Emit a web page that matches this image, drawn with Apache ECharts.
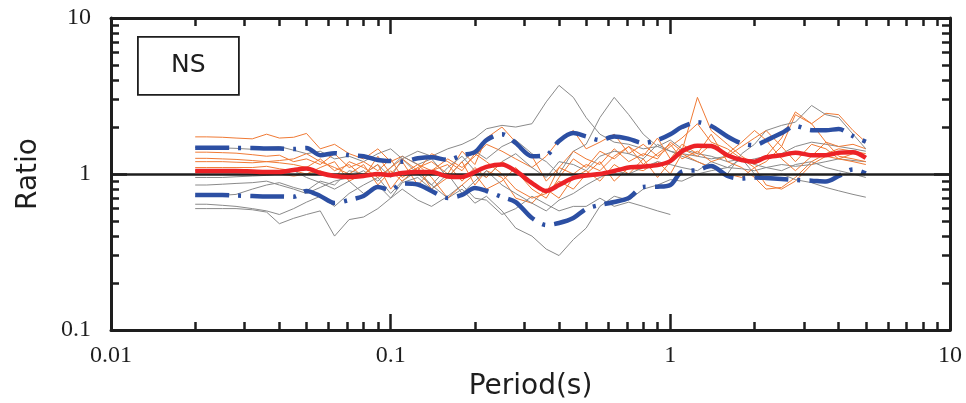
<!DOCTYPE html>
<html>
<head>
<meta charset="utf-8">
<script src="https://cdn.jsdelivr.net/npm/echarts@6/dist/echarts.min.js"></script>
<style>
html,body{margin:0;padding:0;background:#fff;}
#chart{width:966px;height:403px;}
</style>
</head>
<body>
<div id="chart"></div>
<script>
// ---------- data ----------
const periods = [0.02,0.022,0.025,0.028,0.032,0.036,0.04,0.045,0.05,0.056,0.063,0.071,0.08,0.09,0.1,0.11,0.125,0.14,0.16,0.18,0.2,0.22,0.25,0.28,0.32,0.36,0.4,0.45,0.5,0.56,0.63,0.71,0.8,0.9,1.0,1.1,1.25,1.4,1.6,1.8,2.0,2.2,2.5,2.8,3.2,3.6,4.0,4.5,5.0];

const meanRatio = [1.045,1.045,1.045,1.045,1.037,1.03,1.03,1.06,1.085,1.015,0.97,0.957,0.97,1.0,0.985,1.015,1.03,1.03,0.964,0.957,1.03,1.11,1.15,1.045,0.875,0.778,0.85,0.943,0.978,1.0,1.045,1.1,1.117,1.14,1.21,1.40,1.52,1.51,1.32,1.23,1.20,1.28,1.32,1.37,1.32,1.32,1.37,1.38,1.27];
const meanPlusSigma = [1.475,1.475,1.475,1.47,1.47,1.457,1.457,1.446,1.47,1.32,1.36,1.32,1.30,1.23,1.21,1.20,1.26,1.28,1.23,1.32,1.38,1.65,1.80,1.58,1.30,1.32,1.63,1.83,1.74,1.65,1.74,1.68,1.58,1.65,1.80,2.0,2.15,2.03,1.74,1.57,1.53,1.64,1.83,2.03,1.91,1.91,1.94,1.75,1.61];
const meanMinusSigma = [0.734,0.734,0.734,0.728,0.723,0.718,0.718,0.715,0.778,0.723,0.652,0.681,0.723,0.826,0.79,0.869,0.856,0.778,0.702,0.734,0.813,0.778,0.712,0.661,0.522,0.471,0.485,0.522,0.597,0.633,0.661,0.702,0.826,0.829,0.85,1.035,1.06,1.125,0.971,0.936,0.95,0.943,0.929,0.915,0.906,0.895,0.971,1.07,1.01];

const orange1 = [1.73,1.73,1.72,1.70,1.68,1.80,1.70,1.72,1.82,1.45,1.55,1.35,1.25,1.45,1.20,1.30,1.15,1.05,1.25,1.10,1.30,1.55,1.40,1.25,1.10,1.30,1.65,1.90,1.45,1.60,1.80,1.35,1.55,1.30,1.50,1.70,2.10,1.60,1.45,1.25,1.10,1.20,1.50,2.40,2.10,2.45,2.40,1.90,1.60];
const orange2 = [1.38,1.38,1.37,1.36,1.33,1.30,1.32,1.20,1.25,1.15,1.35,1.10,1.20,1.05,1.25,0.95,1.10,1.20,1.00,1.40,1.15,1.70,2.00,1.60,1.30,0.90,1.10,1.40,1.25,1.15,1.45,1.20,1.35,1.25,1.60,1.40,3.10,1.90,1.55,1.30,1.15,1.30,1.70,2.50,2.10,1.60,1.50,1.55,1.45];
const orange3 = [1.26,1.26,1.25,1.24,1.22,1.20,1.18,1.15,1.10,1.25,1.05,1.15,0.95,1.30,1.00,1.20,0.85,1.05,1.15,0.90,1.10,0.95,1.20,1.05,0.80,0.70,0.95,1.25,1.10,1.40,1.25,1.50,1.30,1.70,1.25,1.55,1.35,1.80,1.20,1.10,0.95,0.80,0.82,0.95,1.20,1.35,1.45,1.40,1.35];
const orange4 = [1.20,1.20,1.20,1.19,1.18,1.20,1.22,1.25,1.35,1.20,1.10,1.00,1.15,0.85,1.05,0.90,1.10,0.80,0.95,1.20,0.85,1.05,0.95,0.70,0.65,0.80,0.70,0.95,1.05,0.90,1.15,1.00,1.25,0.95,1.20,1.45,1.30,1.55,1.35,1.60,1.90,1.65,1.25,1.05,1.30,1.60,1.30,1.25,1.20];
const orange5 = [1.10,1.10,1.10,1.10,1.10,1.12,1.08,1.05,1.00,1.10,1.20,0.90,1.00,1.15,0.80,1.00,1.15,0.95,0.70,0.85,1.00,0.80,0.90,1.10,0.85,0.75,0.90,0.80,1.00,1.20,0.90,1.10,1.05,1.20,1.00,1.35,1.20,1.10,1.00,0.95,1.10,0.85,0.80,0.90,1.15,1.30,1.25,1.35,1.30];
const orange6 = [1.05,1.05,1.04,1.04,1.03,1.02,1.00,0.97,1.00,1.05,0.95,1.20,1.10,0.95,1.10,1.25,1.05,1.35,1.20,1.05,1.35,1.20,1.00,0.80,0.70,0.75,1.10,1.00,1.15,1.05,1.30,1.50,1.15,1.35,1.55,1.25,1.40,1.20,1.30,1.50,1.70,1.90,1.50,1.20,1.55,1.45,1.25,1.20,1.15];

const gray1 = [1.48,1.48,1.47,1.46,1.44,1.48,1.50,1.42,1.35,1.40,1.25,1.30,1.20,1.35,1.45,1.25,1.40,1.30,1.45,1.55,1.70,1.95,2.05,2.00,2.10,2.90,3.70,3.10,2.30,1.80,1.60,1.55,1.45,1.50,1.40,1.35,1.30,1.25,1.30,1.20,1.25,1.30,1.35,1.50,1.60,1.55,1.50,1.45,1.40];
const gray2 = [0.85,0.85,0.86,0.87,0.88,0.90,0.85,0.80,0.75,0.82,0.90,0.95,1.05,0.90,1.10,1.30,1.15,1.25,0.95,1.20,1.40,1.25,1.50,1.65,1.35,1.20,1.00,1.40,1.55,2.30,3.10,2.40,1.80,1.50,1.65,1.45,1.35,1.30,1.20,1.25,1.15,1.10,1.05,1.15,1.20,1.10,1.05,1.00,0.95];
const gray3 = [0.72,0.72,0.73,0.74,0.80,0.85,0.88,0.82,0.78,0.90,0.85,1.05,1.00,1.15,0.95,1.25,1.00,0.85,1.10,1.30,1.05,0.95,1.20,1.35,1.10,0.95,1.20,1.15,1.05,1.30,1.40,1.35,1.25,1.55,1.40,1.30,1.20,1.10,1.00,1.35,1.55,1.90,2.05,2.15,2.75,2.40,2.30,1.80,1.45];
const gray4 = [0.64,0.64,0.63,0.62,0.60,0.58,0.55,0.60,0.66,0.72,0.62,0.75,0.85,0.95,0.75,0.90,1.05,0.85,0.70,0.80,0.65,0.72,0.58,0.45,0.40,0.33,0.30,0.38,0.45,0.62,0.72,0.68,0.80,0.85,0.92,0.90,1.00,1.05,1.10,1.08,1.05,1.10,1.15,1.12,1.15,1.20,1.25,1.22,1.20];
const gray5 = [0.60,0.60,0.60,0.60,0.59,0.57,0.48,0.52,0.55,0.58,0.40,0.51,0.53,0.60,0.70,0.80,0.68,0.62,0.72,0.85,0.70,0.68,0.55,0.60,0.72,0.64,0.58,0.62,0.62,0.70,0.62,0.66,0.62,0.58,0.55,null,null,null,null,null,null,null,null,null,null,null,null,null,null];
const gray6 = [0.95,0.95,0.95,0.96,0.97,0.98,1.00,1.05,0.95,0.88,0.80,0.90,0.75,0.85,0.70,0.88,0.95,0.80,1.00,0.75,0.90,1.05,0.85,0.75,0.65,0.58,0.68,0.75,0.85,0.95,1.05,1.00,1.10,1.20,1.15,1.10,1.05,1.20,1.10,1.25,1.00,0.95,1.00,0.92,0.88,0.82,0.78,0.74,0.71];

const xMajorTicks = [0.01, 0.1, 1, 10];
const xTickLabels = ['0.01', '0.1', '1', '10'];
const xMinorTicks = [0.02,0.03,0.04,0.05,0.06,0.07,0.08,0.09,0.2,0.3,0.4,0.5,0.6,0.7,0.8,0.9,2,3,4,5,6,7,8,9];
const yMajorTicks = [0.1, 1, 10];
const yTickLabels = ['0.1', '1', '10'];
const yMinorTicks = [0.2,0.3,0.4,0.5,0.6,0.7,0.8,0.9,2,3,4,5,6,7,8,9];

const xTitle = 'Period(s)';
const yTitle = 'Ratio';
const boxLabel = 'NS';

// ---------- chart ----------
const ink = '#1e1e1e';
const orangeColor = '#F07A35';
const grayColor = '#8a8a8a';
const blueColor = '#2C4FA3';
const redColor = '#EC2227';
const serifFont = '"Liberation Serif", "Times New Roman", "DejaVu Serif", serif';
const sansFont = '"DejaVu Sans", Verdana, sans-serif';

function labelFor(ticks, labels) {
  return function (v) {
    for (let i = 0; i < ticks.length; i++) {
      if (Math.abs(Math.log10(ticks[i]) - Math.log10(v)) < 1e-6) return labels[i];
    }
    return '';
  };
}

function mkAxis(kind, position, ticks, len, showLine, labelCfg, nameCfg) {
  const ax = {
    type: 'log',
    logBase: 10,
    min: kind === 'x' ? 0.01 : 0.1,
    max: 10,
    position: position,
    axisLine: { show: showLine, onZero: false, lineStyle: { color: ink, width: 3 } },
    axisTick: { show: true, inside: true, length: len, customValues: ticks, lineStyle: { color: ink, width: 2.5 } },
    axisLabel: { show: false },
    splitLine: { show: false },
    minorTick: { show: false },
    minorSplitLine: { show: false }
  };
  if (labelCfg) ax.axisLabel = labelCfg;
  if (nameCfg) Object.assign(ax, nameCfg);
  return ax;
}

const xAxes = [
  mkAxis('x', 'bottom', xMajorTicks, 16, true, {
    show: true, customValues: xMajorTicks, margin: 14,
    formatter: labelFor(xMajorTicks, xTickLabels),
    fontFamily: serifFont, fontSize: 24, color: ink
  }, {
    name: xTitle, nameLocation: 'middle', nameGap: 39,
    nameTextStyle: { fontFamily: sansFont, fontSize: 28, color: ink }
  }),
  mkAxis('x', 'bottom', xMinorTicks, 8, false),
  mkAxis('x', 'top', xMajorTicks, 16, true),
  mkAxis('x', 'top', xMinorTicks, 8, false)
];
const yAxes = [
  mkAxis('y', 'left', yMajorTicks, 16, true, {
    show: true, customValues: yMajorTicks, margin: 20,
    formatter: labelFor(yMajorTicks, yTickLabels),
    fontFamily: serifFont, fontSize: 24, color: ink
  }, {
    name: yTitle, nameLocation: 'middle', nameGap: 68, nameRotate: 90,
    nameTextStyle: { fontFamily: sansFont, fontSize: 28, color: ink }
  }),
  mkAxis('y', 'left', yMinorTicks, 8, false),
  mkAxis('y', 'right', yMajorTicks, 16, true),
  mkAxis('y', 'right', yMinorTicks, 8, false)
];

function pairs(vals) {
  return periods.map((p, i) => [p, vals[i]]);
}
function thin(vals, color) {
  return {
    type: 'line', data: pairs(vals), symbol: 'none', connectNulls: false,
    lineStyle: { color: color, width: 1 }, z: 2, silent: true
  };
}

const series = [
  thin(gray1, grayColor), thin(orange1, orangeColor),
  thin(gray2, grayColor), thin(orange2, orangeColor),
  thin(gray3, grayColor), thin(orange3, orangeColor),
  thin(gray4, grayColor), thin(orange4, orangeColor),
  thin(gray5, grayColor), thin(orange5, orangeColor),
  thin(gray6, grayColor), thin(orange6, orangeColor),
  {
    type: 'line', data: [], symbol: 'none', z: 3, silent: true,
    markLine: {
      silent: true, symbol: ['none', 'none'], animation: false,
      label: { show: false },
      lineStyle: { color: ink, width: 2.5, type: 'solid' },
      data: [{ yAxis: 1 }]
    }
  },
  {
    type: 'line', data: pairs(meanPlusSigma), symbol: 'none', smooth: 0.3, z: 4,
    lineStyle: { color: blueColor, width: 4.5, type: [34, 9, 3, 9], cap: 'butt' }
  },
  {
    type: 'line', data: pairs(meanMinusSigma), symbol: 'none', smooth: 0.3, z: 4,
    lineStyle: { color: blueColor, width: 4.5, type: [34, 9, 3, 9], cap: 'butt' }
  },
  {
    type: 'line', data: pairs(meanRatio), symbol: 'none', smooth: 0.3, z: 5,
    lineStyle: { color: redColor, width: 4.5 }
  }
];

const chart = echarts.init(document.getElementById('chart'), null, { renderer: 'canvas' });
chart.setOption({
  animation: false,
  backgroundColor: '#ffffff',
  grid: { left: 111, right: 16, top: 18, bottom: 73, containLabel: false, outerBoundsMode: 'none' },
  xAxis: xAxes,
  yAxis: yAxes,
  series: series,
  graphic: [{
    type: 'group', left: 137, top: 36,
    children: [
      { type: 'rect', shape: { x: 0, y: 0, width: 101, height: 58 },
        style: { fill: '#fff', stroke: ink, lineWidth: 1.8 } },
      { type: 'text', x: 50.5, y: 29,
        style: { text: boxLabel, fontFamily: sansFont, fontSize: 25, fill: ink, align: 'center', verticalAlign: 'middle' } }
    ]
  }]
});
</script>
</body>
</html>
